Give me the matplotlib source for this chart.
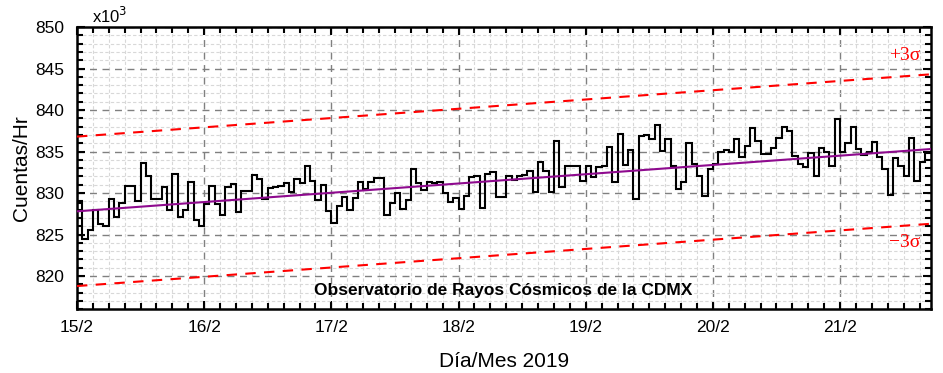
import numpy as np
import matplotlib
matplotlib.use("Agg")
import matplotlib.pyplot as plt
from matplotlib.ticker import MultipleLocator

# hourly counts (x10^3) starting 15/2 00:00
counts = [
    828.8, 824.5, 825.5, 827.9, 826.3, 826.0, 829.3, 827.1, 828.8, 830.8, 830.8, 829.0,
    833.6, 832.0, 829.3, 829.3, 830.7, 827.9, 832.3, 827.1, 827.9, 831.3, 826.7, 826.0,
    828.7, 830.8, 828.7, 827.4, 830.7, 831.1, 827.7, 830.2, 830.3, 832.2, 831.7, 829.3,
    830.6, 830.7, 830.9, 831.2, 830.1, 831.7, 831.2, 833.3, 831.4, 829.2, 831.0, 827.8,
    826.4, 828.4, 829.5, 828.0, 829.4, 831.3, 830.5, 831.3, 831.8, 831.8, 827.3, 828.8,
    830.0, 828.1, 829.2, 832.9, 831.2, 830.4, 831.3, 831.2, 831.3, 830.0, 828.9, 829.4,
    828.1, 829.6, 831.9, 832.1, 828.2, 832.3, 832.5, 829.5, 829.5, 832.1, 831.6, 832.0,
    832.2, 832.7, 830.1, 833.7, 832.7, 830.1, 836.3, 830.7, 833.2, 833.2, 833.2, 831.5,
    833.2, 831.9, 833.1, 833.3, 835.6, 831.3, 837.1, 833.4, 835.2, 829.3, 836.9, 837.0,
    836.5, 838.2, 835.1, 836.5, 833.2, 830.5, 831.3, 836.0, 833.5, 832.0, 829.6, 832.9,
    833.5, 835.0, 835.2, 835.0, 836.5, 834.3, 835.7, 837.8, 836.3, 834.7, 834.7, 835.4,
    836.6, 838.0, 837.5, 834.5, 833.5, 833.1, 834.8, 832.1, 835.4, 834.9, 833.3, 838.9,
    834.9, 836.0, 837.9, 835.3, 834.6, 834.9, 836.2, 834.4, 832.9, 829.8, 834.2, 833.2,
    832.1, 836.6, 831.4, 833.7, 834.8, 834.8,
]
trend_start = 827.8
trend_end = 835.3
sigma3 = 9.0
day_labels = ["15/2", "16/2", "17/2", "18/2", "19/2", "20/2", "21/2"]

plt.rcParams['font.family'] = ['Liberation Sans', 'DejaVu Sans']

fig = plt.figure(figsize=(9.43, 3.73), dpi=100)
ax = fig.add_axes([77/943, 1 - 309.3/373, (930.7 - 77)/943, (309.3 - 27)/373])

n = len(counts)
edges = np.arange(n + 1) / 24.0
xmax = 161.1 / 24.0

ax.grid(which='minor', color='#d8d8d8', linestyle=(0, (3, 2)), linewidth=0.8)
ax.grid(which='major', color='#808080', linestyle=(0, (5, 4)), linewidth=1.0)
ax.set_axisbelow(True)

xt = np.array([0, xmax])
trend = trend_start + (trend_end - trend_start) * xt / xmax
ax.plot(xt, trend + sigma3, color='red', linestyle=(0, (5, 4)), linewidth=1.5, zorder=3)
ax.plot(xt, trend - sigma3, color='red', linestyle=(0, (5, 4)), linewidth=1.5, zorder=3)
ax.stairs(counts, edges, color='black', linewidth=1.5, baseline=None, zorder=4)
ax.plot(xt, trend, color='#8e0a8e', linewidth=1.5, zorder=5)

ax.set_xlim(0, xmax)
ax.set_ylim(816, 850)
ax.set_xticks(np.arange(len(day_labels)))
ax.set_xticklabels(day_labels)
ax.xaxis.set_minor_locator(MultipleLocator(0.125))
ax.yaxis.set_major_locator(MultipleLocator(5))
ax.yaxis.set_minor_locator(MultipleLocator(1))
ax.tick_params(which='both', direction='in', top=True, right=True, width=1.5,
               labelsize=12.5, colors='black')
ax.tick_params(which='major', length=6)
ax.tick_params(which='minor', length=4)
ax.tick_params(axis='x', pad=8)
ax.tick_params(axis='y', pad=9)
for s in ax.spines.values():
    s.set_linewidth(1.8)

ax.set_xlabel("Día/Mes 2019", fontsize=15, labelpad=12)
ax.set_ylabel("Cuentas/Hr", fontsize=15, labelpad=3)

ax.text(0.0175, 1.005, "x10$^3$", transform=ax.transAxes, fontsize=12,
        ha='left', va='bottom')

ax.text(6.51, 846.6, "+3σ", color='red', fontsize=14, family='Liberation Serif',
        ha='center', va='center', zorder=6)
ax.text(6.51, 824.1, "−3σ", color='red', fontsize=14, family='Liberation Serif',
        ha='center', va='center', zorder=6)
ax.text(3.35, 818.3, "Observatorio de Rayos Cósmicos de la CDMX", fontsize=12.5,
        fontweight='bold', ha='center', va='center', zorder=6)

fig.savefig("out.png", dpi=100)
